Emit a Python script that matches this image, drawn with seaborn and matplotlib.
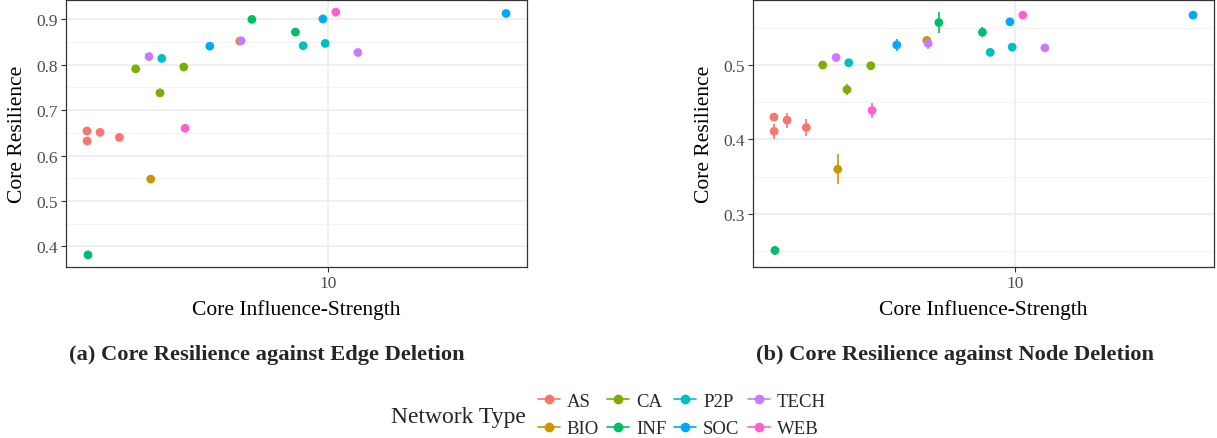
import numpy as np
import pandas as pd
import matplotlib
matplotlib.use("Agg")
import matplotlib.pyplot as plt
import seaborn as sns
from matplotlib.lines import Line2D
from matplotlib.ticker import FixedLocator, FixedFormatter, NullLocator

# ---------------- data ----------------
categories = ["AS", "BIO", "CA", "INF", "P2P", "SOC", "TECH", "WEB"]
palette_hex = ["#F8766D", "#CD9600", "#7CAE00", "#00BE67",
               "#00BFC4", "#00A9FF", "#C77CFF", "#FF61CC"]

network = ["AS", "AS", "AS", "AS",
           "BIO", "BIO",
           "CA", "CA", "CA",
           "INF", "INF", "INF",
           "P2P", "P2P", "P2P",
           "SOC", "SOC", "SOC",
           "TECH", "TECH", "TECH",
           "WEB", "WEB"]
influence = [1.787, 1.789, 1.962, 2.252,
             2.818, 5.321,
             2.531, 3.010, 3.567,
             1.800, 5.799, 7.915,
             3.048, 8.363, 9.788,
             4.295, 9.629, 35.59,
             2.784, 5.372, 12.36,
             3.600, 10.56]
edge_resilience = [0.654, 0.632, 0.651, 0.640,
                   0.548, 0.852,
                   0.791, 0.738, 0.795,
                   0.381, 0.900, 0.872,
                   0.814, 0.842, 0.847,
                   0.841, 0.901, 0.913,
                   0.818, 0.853, 0.827,
                   0.660, 0.916]
node_resilience = [0.430, 0.411, 0.426, 0.416,
                   0.360, 0.533,
                   0.500, 0.467, 0.499,
                   0.251, 0.557, 0.544,
                   0.503, 0.517, 0.524,
                   0.527, 0.558, 0.567,
                   0.510, 0.529, 0.523,
                   0.439, 0.567]
node_error = [0.004, 0.010, 0.010, 0.011,
              0.020, 0.004,
              0.005, 0.007, 0.003,
              0.006, 0.014, 0.007,
              0.003, 0.002, 0.002,
              0.008, 0.003, 0.002,
              0.003, 0.007, 0.002,
              0.010, 0.003]

x_label = "Core Influence-Strength"
y_label = "Core Resilience"
x_ticks = [10]
x_tick_labels = ["10"]
left_y_ticks = [0.4, 0.5, 0.6, 0.7, 0.8, 0.9]
left_y_minor = [0.45, 0.55, 0.65, 0.75, 0.85]
right_y_ticks = [0.3, 0.4, 0.5]
right_y_minor = [0.25, 0.35, 0.45, 0.55]
caption_a = "(a) Core Resilience against Edge Deletion"
caption_b = "(b) Core Resilience against Node Deletion"
legend_title = "Network Type"

df = pd.DataFrame({"network": network, "influence": influence,
                   "edge": edge_resilience, "node": node_resilience,
                   "err": node_error})
palette = dict(zip(categories, palette_hex))

# ---------------- style ----------------
sns.set_theme(style="white")
plt.rcParams["font.family"] = ["Liberation Serif", "DejaVu Serif"]

W, H = 1217, 439
fig = plt.figure(figsize=(W / 100, H / 100), dpi=100)
fig.patch.set_facecolor("white")

def px_axes(x0, y0, x1, y1):
    return fig.add_axes([x0 / W, 1 - y1 / H, (x1 - x0) / W, (y1 - y0) / H])

ax1 = px_axes(66, 1, 527, 268)
ax2 = px_axes(753, 1, 1214, 268)

GRID_MAJOR = "#EBEBEB"
GRID_MINOR = "#F3F3F3"
DARK = "#333333"
TICKLAB = "#4D4D4D"

# ggplot-like 5% expansion in log space
lx = np.log10(df["influence"])
span = lx.max() - lx.min()
xlim = (10 ** (lx.min() - 0.05 * span), 10 ** (lx.max() + 0.05 * span))

def expand(lo, hi, f=0.05):
    s = hi - lo
    return lo - f * s, hi + f * s

def style(ax, yt, ym, ylim):
    ax.set_xscale("log")
    ax.set_xlim(*xlim)
    ax.set_ylim(*ylim)
    ax.xaxis.set_major_locator(FixedLocator(x_ticks))
    ax.xaxis.set_major_formatter(FixedFormatter(x_tick_labels))
    ax.xaxis.set_minor_locator(NullLocator())
    ax.set_yticks(yt)
    ax.set_yticklabels([f"{v:.1f}" for v in yt])
    ax.set_yticks(ym, minor=True)
    ax.grid(which="major", color=GRID_MAJOR, lw=1.1)
    ax.grid(which="minor", color=GRID_MINOR, lw=0.7)
    ax.set_axisbelow(True)
    ax.tick_params(which="minor", length=0)
    ax.tick_params(which="major", length=3.5, width=0.8, color=DARK,
                   labelcolor=TICKLAB, labelsize=12.5, pad=2,
                   left=True, bottom=True)
    for sp in ax.spines.values():
        sp.set_color(DARK)
        sp.set_linewidth(0.9)
    ax.set_xlabel(x_label, fontsize=15.5, color="black", labelpad=6)
    ax.set_ylabel(y_label, fontsize=15.5, color="black", labelpad=7)

# left panel
ax1.set_xscale("log")
sns.scatterplot(data=df, x="influence", y="edge", hue="network",
                hue_order=categories, palette=palette, s=40,
                edgecolor="none", linewidth=0, legend=False, ax=ax1, zorder=3)
style(ax1, left_y_ticks, left_y_minor,
      expand(df["edge"].min(), df["edge"].max()))

# right panel
ax2.set_xscale("log")
for cat in categories:
    sub = df[df["network"] == cat]
    ax2.errorbar(sub["influence"], sub["node"], yerr=sub["err"], fmt="none",
                 ecolor=palette[cat], elinewidth=1.2, capsize=0, zorder=2)
sns.scatterplot(data=df, x="influence", y="node", hue="network",
                hue_order=categories, palette=palette, s=40,
                edgecolor="none", linewidth=0, legend=False, ax=ax2, zorder=3)
style(ax2, right_y_ticks, right_y_minor,
      expand((df["node"] - df["err"]).min(), (df["node"] + df["err"]).max()))

# captions
fig.text(267 / W, 1 - 355 / H, caption_a, ha="center", va="center",
         fontsize=16.2, fontweight="bold")
fig.text(955 / W, 1 - 355 / H, caption_b, ha="center", va="center",
         fontsize=16.2, fontweight="bold")

# legend
fig.text(391 / W, 1 - 418 / H, legend_title, ha="left", va="center", fontsize=17)
handles = [Line2D([0], [0], color=palette[c], marker="o", markersize=6,
                  lw=1.2) for c in categories]
fig.legend(handles, categories, ncol=4, loc="center left",
           bbox_to_anchor=(523 / W, 1 - 416 / H), frameon=False,
           fontsize=13.5, handlelength=1.17, handletextpad=0.37,
           columnspacing=0.43, labelspacing=0.55, borderpad=0.3)

fig.savefig("out.png", dpi=100, facecolor="white")
